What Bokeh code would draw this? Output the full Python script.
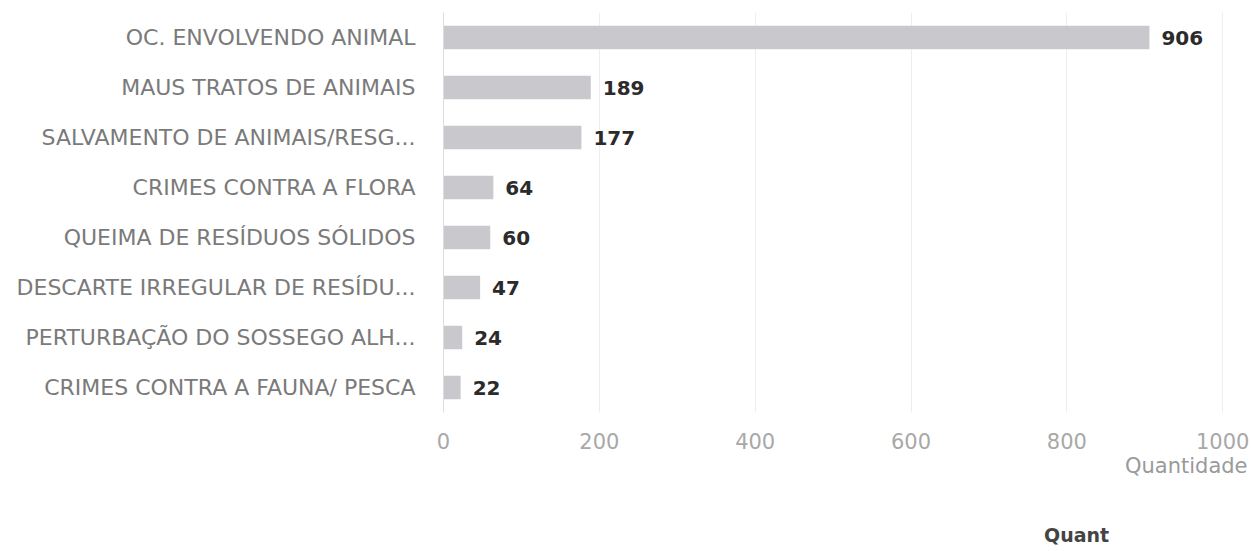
from bokeh.plotting import figure
from bokeh.layouts import column
from bokeh.models import FactorRange, Range1d, Legend, LegendItem, Title, ColumnDataSource, FixedTicker
from bokeh.core.properties import value
from bokeh.embed import file_html
from bokeh.resources import INLINE

categories = [
    "OC. ENVOLVENDO ANIMAL",
    "MAUS TRATOS DE ANIMAIS",
    "SALVAMENTO DE ANIMAIS/RESG...",
    "CRIMES CONTRA A FLORA",
    "QUEIMA DE RESÍDUOS SÓLIDOS",
    "DESCARTE IRREGULAR DE RESÍDU...",
    "PERTURBAÇÃO DO SOSSEGO ALH...",
    "CRIMES CONTRA A FAUNA/ PESCA",
]
values = [906, 189, 177, 64, 60, 47, 24, 22]
x_ticks = [0, 200, 400, 600, 800, 1000]
series_name = "Quant"
x_title = "Quantidade"

BAR = "#c9c9cd"
src = ColumnDataSource(dict(cat=categories, val=values, lbl=[str(v) for v in values]))

p = figure(
    frame_width=808, frame_height=400,
    y_range=FactorRange(factors=list(reversed(categories))),
    x_range=Range1d(0, 1037),
    output_backend="svg", toolbar_location=None,
    min_border_top=12, min_border_right=0, min_border_left=443, min_border_bottom=0,
)
p.outline_line_color = None
p.background_fill_color = "white"

p.hbar(y="cat", right="val", left=0, height=0.47, source=src,
       fill_color=BAR, line_color=None)

p.text(x="val", y="cat", text="lbl", source=src, x_offset=12,
       text_baseline="middle", text_align="left",
       text_font=value("DejaVu Sans"), text_font_style="bold",
       text_font_size="20px", text_color="#2b2b2b")

# axes
p.xaxis.ticker = FixedTicker(ticks=x_ticks)
p.xaxis.axis_line_color = None
p.xaxis.major_tick_line_color = None
p.xaxis.minor_tick_line_color = None
p.xaxis.major_label_standoff = 14
p.xaxis.major_label_text_font = "DejaVu Sans"
p.xaxis.major_label_text_font_size = "21px"
p.xaxis.major_label_text_color = "#a8a8a8"

p.yaxis.axis_line_color = "#dddddd"
p.yaxis.major_tick_line_color = None
p.yaxis.minor_tick_line_color = None
p.yaxis.major_label_standoff = 22
p.yaxis.major_label_text_font = "DejaVu Sans"
p.yaxis.major_label_text_font_size = "22px"
p.yaxis.major_label_text_color = "#7a7a7a"

p.xgrid.grid_line_color = "#eeeeee"
p.ygrid.grid_line_color = None

p.add_layout(Title(text=x_title, align="right", text_font="DejaVu Sans",
                   text_font_size="21px", text_color="#9a9a9a",
                   text_font_style="normal", standoff=0, offset=4), "below")

# separate strip below the chart that holds the legend
leg = figure(width=1251, height=71, x_range=Range1d(0, 1), y_range=Range1d(0, 1),
             x_axis_location=None, y_axis_location=None,
             output_backend="svg", toolbar_location=None,
             min_border_top=0, min_border_bottom=0, min_border_left=0, min_border_right=0)
leg.outline_line_color = None
leg.xgrid.visible = False
leg.ygrid.visible = False
r = leg.scatter(x="x", y="y", source=ColumnDataSource(dict(x=[], y=[])),
                marker="circle", size=16, fill_color=BAR, line_color=None)

legend = Legend(items=[LegendItem(label=series_name, renderers=[r])],
                location=(573, 2), orientation="horizontal",
                label_text_font="DejaVu Sans", label_text_font_style="bold",
                label_text_font_size="19px", label_text_color="#444444",
                border_line_color=None, background_fill_alpha=0,
                margin=0, padding=2, glyph_width=18, glyph_height=18,
                label_standoff=10)
leg.add_layout(legend, "center")

layout = column(p, leg, spacing=0)
open("out.html", "w").write(file_html(layout, INLINE))
